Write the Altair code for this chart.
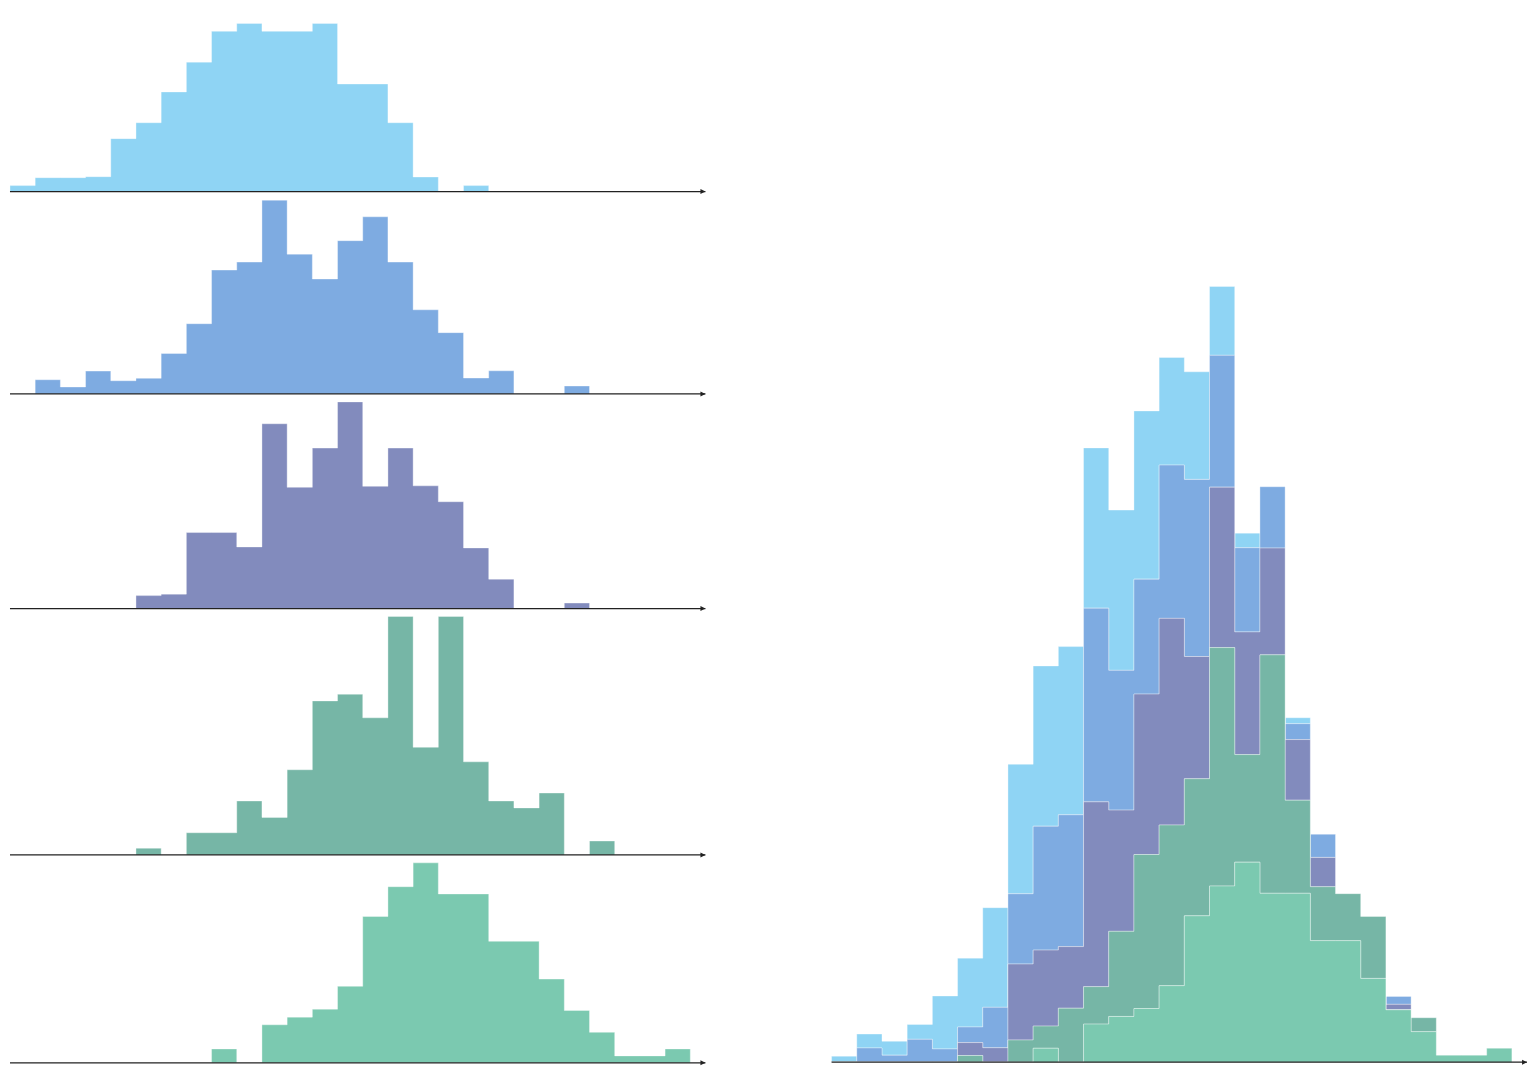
import altair as alt
import pandas as pd

# bin index (27 equal-width bins) and series values
bins = list(range(27))
series_names = ["Series 1", "Series 2", "Series 3", "Series 4", "Series 5"]
colors = ["#8fd4f4", "#7eabe1", "#828bbd", "#76b6a6", "#7bc9b0"]

s1 = [6, 14, 14, 15, 53.3, 69.3, 100.3, 130.3, 161.3, 169.3, 161.3, 161.3, 169.3,
      108.3, 108.3, 69.3, 14.7, 0, 6, 0, 0, 0, 0, 0, 0, 0, 0]
s2 = [0, 14.3, 7, 23, 13.3, 15.7, 40.7, 70.7, 124.7, 132.7, 195, 140.7, 115.7,
      154.3, 178.3, 132.7, 84.7, 61.7, 16, 23.3, 0, 0, 8, 0, 0, 0, 0]
s3 = [0, 0, 0, 0, 0, 13, 14.5, 76.5, 76.5, 62, 186, 122, 161.5,
      208, 123, 161.5, 123.5, 107.5, 61, 29.5, 0, 0, 5.5, 0, 0, 0, 0]
s4 = [0, 0, 0, 0, 0, 6.7, 0, 22.3, 22.3, 54.3, 37.7, 85.7, 155,
      161.7, 138, 240, 108.3, 240, 93.7, 54.3, 47.3, 62.3, 0, 14, 0, 0, 0]
s5 = [0, 0, 0, 0, 0, 0, 0, 0, 14, 0, 38.3, 46, 54,
      77, 147.3, 177.3, 201.3, 170, 170, 122.3, 122.3, 84.3, 52.7, 30.7, 7, 7, 14]
series_values = [s1, s2, s3, s4, s5]

X_MAX = 27.6
SPACING = 8
PANEL_W = 700
ARROW = "M-1,-0.5L0,0L-1,0.5Z"
AREA_STYLE = dict(opacity=1, interpolate="step-after",
                  stroke="white", strokeOpacity=0.35, strokeWidth=1)

panel_heights = [max(v) for v in series_values]
total_h = sum(panel_heights) + SPACING * (len(panel_heights) - 1)

xscale = alt.Scale(domain=[0, X_MAX], nice=False, zero=False)


def axis_layers(ymax):
    line_df = pd.DataFrame({"x": [0], "x2": [X_MAX]})
    yscale = alt.Scale(domain=[0, ymax], nice=False)
    rule = alt.Chart(line_df).mark_rule(color="#222222", strokeWidth=1.2).encode(
        x=alt.X("x:Q", scale=xscale, axis=None),
        x2="x2:Q",
        y=alt.Y(datum=0, scale=yscale, axis=None),
    )
    arrow = alt.Chart(line_df).mark_point(
        shape=ARROW, filled=True, size=100, color="#222222", opacity=1
    ).encode(
        x=alt.X("x2:Q", scale=xscale, axis=None),
        y=alt.Y(datum=0, scale=yscale, axis=None),
    )
    return rule, arrow


def panel(vals, color, h):
    yscale = alt.Scale(domain=[0, h], nice=False)
    df = pd.DataFrame({"b": bins + [len(bins)], "v": list(vals) + [0]})
    fill = alt.Chart(df).mark_area(color=color, **AREA_STYLE).encode(
        x=alt.X("b:Q", scale=xscale, axis=None),
        y=alt.Y("v:Q", scale=yscale, axis=None),
    )
    rule, arrow = axis_layers(h)
    return alt.layer(fill, rule, arrow).properties(width=PANEL_W, height=h)


left = alt.vconcat(
    *[panel(v, c, h) for v, c, h in zip(series_values, colors, panel_heights)],
    spacing=SPACING,
    bounds="flush",
)

rows = []
for i, (name, vals) in enumerate(zip(series_names, series_values)):
    for b, v in zip(bins + [len(bins)], list(vals) + [0]):
        rows.append({"b": b, "v": v, "series": name,
                     "stack": len(series_names) - 1 - i})
long_df = pd.DataFrame(rows)

color_scale = alt.Scale(domain=series_names, range=colors)
yscale_r = alt.Scale(domain=[0, total_h], nice=False)

stacked = alt.Chart(long_df).mark_area(**AREA_STYLE).encode(
    x=alt.X("b:Q", scale=xscale, axis=None),
    y=alt.Y("v:Q", stack="zero", scale=yscale_r, axis=None),
    color=alt.Color("series:N", scale=color_scale, legend=None),
    order=alt.Order("stack:Q"),
)
r_rule, r_arrow = axis_layers(total_h)
right = alt.layer(stacked, r_rule, r_arrow).properties(width=PANEL_W, height=total_h)

chart = alt.hconcat(left, right, spacing=124).properties(
    padding={"left": 0, "top": 10, "right": 0, "bottom": 0}
).configure_view(stroke=None)

chart.save("out.html", embed_options={"renderer": "svg", "actions": False})
